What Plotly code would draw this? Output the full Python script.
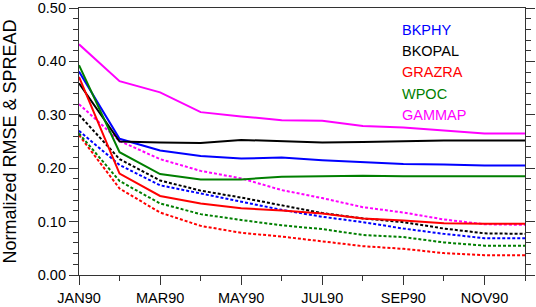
import plotly.graph_objects as go

months = ["JAN90", "FEB90", "MAR90", "APR90", "MAY90", "JUN90",
          "JUL90", "AUG90", "SEP90", "OCT90", "NOV90", "DEC90"]
tick_labels = ["JAN90", "MAR90", "MAY90", "JUL90", "SEP90", "NOV90"]

names = ["BKPHY", "BKOPAL", "GRAZRA", "WPOC", "GAMMAP"]
colors = ["#0000FF", "#000000", "#FF0000", "#007F00", "#FF00FF"]

# RMSE (solid)
rmse_bkphy  = [0.381, 0.255, 0.233, 0.223, 0.218, 0.220, 0.215, 0.212, 0.208, 0.207, 0.205, 0.205]
rmse_bkopal = [0.359, 0.250, 0.248, 0.247, 0.253, 0.250, 0.248, 0.249, 0.251, 0.252, 0.252, 0.252]
rmse_grazra = [0.371, 0.190, 0.148, 0.134, 0.125, 0.121, 0.115, 0.106, 0.102, 0.097, 0.096, 0.096]
rmse_wpoc   = [0.393, 0.230, 0.189, 0.179, 0.179, 0.184, 0.185, 0.186, 0.185, 0.185, 0.185, 0.185]
rmse_gammap = [0.432, 0.363, 0.342, 0.305, 0.297, 0.290, 0.289, 0.279, 0.276, 0.270, 0.265, 0.265]

# SPREAD (dashed)
spread_bkphy  = [0.270, 0.206, 0.168, 0.153, 0.137, 0.122, 0.109, 0.099, 0.087, 0.077, 0.069, 0.069]
spread_bkopal = [0.300, 0.217, 0.177, 0.158, 0.145, 0.131, 0.116, 0.106, 0.099, 0.087, 0.078, 0.077]
spread_grazra = [0.262, 0.162, 0.117, 0.092, 0.079, 0.072, 0.063, 0.054, 0.049, 0.041, 0.037, 0.037]
spread_wpoc   = [0.265, 0.176, 0.134, 0.114, 0.103, 0.093, 0.086, 0.075, 0.071, 0.061, 0.055, 0.055]
spread_gammap = [0.320, 0.251, 0.217, 0.195, 0.181, 0.159, 0.144, 0.127, 0.117, 0.104, 0.095, 0.094]

rmse = [rmse_bkphy, rmse_bkopal, rmse_grazra, rmse_wpoc, rmse_gammap]
spread = [spread_bkphy, spread_bkopal, spread_grazra, spread_wpoc, spread_gammap]

x = list(range(len(months)))
fig = go.Figure()
for name, col, s in zip(names, colors, spread):
    fig.add_trace(go.Scatter(x=x, y=s, mode="lines", name=name + " spread",
                             line=dict(color=col, width=2, dash="3px,2px"),
                             showlegend=False))
for name, col, r in zip(names, colors, rmse):
    fig.add_trace(go.Scatter(x=x, y=r, mode="lines", name=name,
                             line=dict(color=col, width=2),
                             showlegend=False))

for i, (name, col) in enumerate(zip(names, colors)):
    fig.add_annotation(text=name, x=0.72, xanchor="left",
                       y=0.918 - i * 0.0795, yanchor="middle",
                       xref="paper", yref="paper", showarrow=False,
                       font=dict(color=col, size=14.5))

fig.update_layout(
    width=536, height=307,
    margin=dict(l=79, r=11, t=8, b=32),
    paper_bgcolor="white", plot_bgcolor="white",
    font=dict(family="Liberation Sans, Arial, sans-serif", color="black"),
    xaxis=dict(range=[0, 11], tickmode="array", automargin=False,
               tickvals=[0, 2, 4, 6, 8, 10], ticktext=tick_labels,
               ticks="outside", ticklen=9, tickwidth=1, tickcolor="#333",
               showline=True, linecolor="#333", linewidth=1.2, mirror=True,
               showgrid=False, zeroline=False,
               tickfont=dict(size=14.5),
               minor=dict(tickmode="linear", tick0=0, dtick=1, ticks="outside",
                          ticklen=5, tickcolor="#333", showgrid=False)),
    yaxis=dict(range=[0, 0.5], dtick=0.1, tick0=0, tickformat=".2f", automargin=False,
               ticks="outside", ticklen=9, tickwidth=1, tickcolor="#333",
               showline=True, linecolor="#333", linewidth=1.2, mirror="ticks",
               showgrid=False, zeroline=False,
               tickfont=dict(size=14.5),
               title=dict(text="Normalized RMSE & SPREAD", font=dict(size=18), standoff=16),
               minor=dict(dtick=0.02, ticks="outside", ticklen=5,
                          tickcolor="#333", showgrid=False)),
)

fig.write_html("out.html", config={"displayModeBar": False},
               post_script="document.body.style.margin='0';document.body.style.overflow='hidden';")
